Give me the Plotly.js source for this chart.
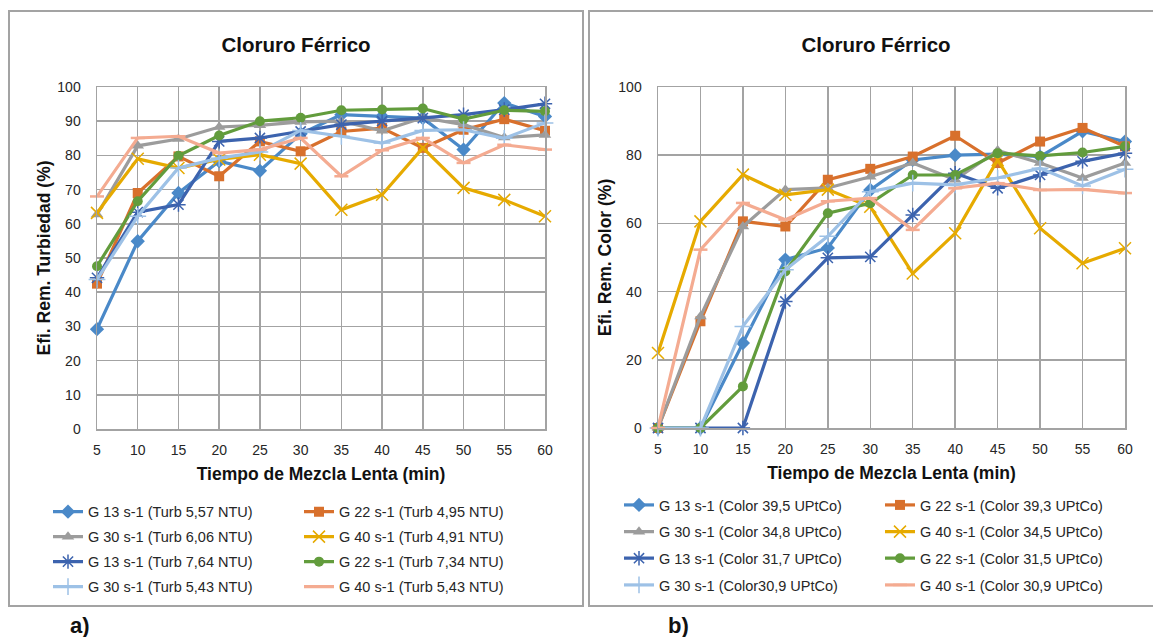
<!DOCTYPE html>
<html>
<head>
<meta charset="utf-8">
<script src="https://cdn.plot.ly/plotly-3.0.1.min.js"></script>
<style>
  html, body { margin: 0; padding: 0; width: 1153px; height: 637px; overflow: hidden; background: #fff; }
  .chart { position: absolute; top: 10px; width: 576px; height: 597px; }
  .frame { position: absolute; top: 10px; width: 576px; height: 597px; box-sizing: border-box;
           border: 2px solid #a3a3a3; pointer-events: none; }
  .tag { position: absolute; top: 613px; font: bold 22px "Liberation Sans", Arial, sans-serif; color: #111; }
</style>
</head>
<body>
<div id="chartA" class="chart" style="left:8px"></div>
<div class="frame" style="left:8px"></div>
<div id="chartB" class="chart" style="left:588px"></div>
<div class="frame" style="left:588px"></div>
<div class="tag" style="left:70px">a)</div>
<div class="tag" style="left:668px">b)</div>

<script>
// Slow-mix time (min)
const minutes = [5, 10, 15, 20, 25, 30, 35, 40, 45, 50, 55, 60];

// Turbidity removal efficiency (%) — chart a)
const turbLabels = [
  'G 13 s-1 (Turb 5,57 NTU)', 'G 22 s-1 (Turb 4,95 NTU)',
  'G 30 s-1 (Turb 6,06 NTU)', 'G 40 s-1 (Turb 4,91 NTU)',
  'G 13 s-1 (Turb 7,64 NTU)', 'G 22 s-1 (Turb 7,34 NTU)',
  'G 30 s-1 (Turb 5,43 NTU)', 'G 40 s-1 (Turb 5,43 NTU)'
];
const turbG13a = [29.2, 54.9, 69.0, 78.3, 75.5, 86.3, 91.9, 91.4, 90.9, 81.7, 95.3, 91.4];
const turbG22a = [42.5, 69.0, 79.7, 73.9, 84.1, 81.2, 87.0, 88.0, 82.2, 87.5, 90.6, 87.2];
const turbG30a = [62.7, 82.8, 84.8, 88.3, 88.8, 89.8, 90.0, 87.2, 91.0, 89.0, 85.2, 86.0];
const turbG40a = [63.2, 79.0, 76.3, 78.8, 80.2, 77.6, 64.1, 68.5, 82.2, 70.5, 67.0, 62.2];
const turbG13b = [44.2, 63.4, 65.6, 84.1, 85.1, 87.0, 89.0, 90.0, 90.9, 91.9, 93.4, 95.1];
const turbG22b = [47.6, 66.6, 79.9, 85.8, 90.0, 91.0, 93.2, 93.4, 93.7, 90.6, 93.2, 92.9];
const turbG30b = [43.7, 62.2, 76.3, 79.2, 81.0, 87.3, 85.6, 83.6, 87.3, 87.5, 85.0, 89.5];
const turbG40b = [68.0, 85.1, 85.6, 80.7, 81.7, 85.1, 73.9, 81.5, 85.1, 77.8, 83.1, 81.7];

// Colour removal efficiency (%) — chart b)
const colorLabels = [
  'G 13 s-1 (Color 39,5 UPtCo)', 'G 22 s-1 (Color 39,3 UPtCo)',
  'G 30 s-1 (Color 34,8 UPtCo)', 'G 40 s-1 (Color 34,5 UPtCo)',
  'G 13 s-1 (Color 31,7 UPtCo)', 'G 22 s-1 (Color 31,5 UPtCo)',
  'G 30 s-1 (Color30,9 UPtCo)', 'G 40 s-1 (Color 30,9 UPtCo)'
];
const colorG13a = [0, 0, 24.9, 49.4, 52.8, 69.8, 78.6, 80.0, 80.3, 79.6, 87.0, 84.0];
const colorG22a = [0, 31.3, 60.6, 59.1, 72.8, 76.0, 79.6, 85.7, 77.7, 84.0, 88.0, 82.6];
const colorG30a = [0, 32.7, 59.1, 69.9, 70.4, 73.7, 77.7, 72.8, 81.4, 77.7, 73.3, 77.7];
const colorG40a = [22.0, 60.6, 74.3, 68.4, 69.9, 64.9, 45.3, 57.1, 78.6, 58.6, 48.3, 52.7];
const colorG13b = [0, 0, 0, 37.1, 49.9, 50.2, 62.5, 74.7, 70.3, 74.2, 78.2, 80.6];
const colorG22b = [0, 0, 12.2, 45.9, 63.0, 65.9, 74.2, 74.2, 80.6, 79.8, 80.8, 82.6];
const colorG30b = [0, 0, 29.8, 46.4, 56.2, 69.3, 71.8, 71.3, 73.3, 76.2, 71.0, 75.9];
const colorG40b = [0, 52.3, 66.0, 61.1, 66.5, 67.4, 58.1, 70.3, 71.8, 69.8, 70.0, 68.9];

// One style per series position (same for both charts)
const seriesStyles = [
  { color: '#4a89c8', symbol: 'diamond', size: 11 },
  { color: '#d8702c', symbol: 'square', size: 10 },
  { color: '#9c9c9c', symbol: 'triangle-up', size: 11 },
  { color: '#e6aa00', symbol: 'x-thin-open', size: 12, lw: 1.5 },
  { color: '#3c63ae', symbol: 'asterisk-open', size: 12, lw: 1.5 },
  { color: '#629c3c', symbol: 'circle', size: 10 },
  { color: '#9dc1e6', symbol: 'cross-thin-open', size: 12, lw: 1.5 },
  { color: '#f4ab91', symbol: 'line-ew-open', size: 10, lw: 2.5 }
];

const FONT = '"Liberation Sans", Arial, sans-serif';
const LEGEND_IDS = ['legend', 'legend2', 'legend3', 'legend4'];

function buildTraces(labels, seriesList) {
  return seriesList.map((vals, i) => {
    const s = seriesStyles[i];
    return {
      type: 'scatter',
      mode: 'lines+markers',
      x: minutes,
      y: vals,
      name: labels[i],
      legend: LEGEND_IDS[Math.floor(i / 2)],   // two entries per legend row
      cliponaxis: false,
      line: { color: s.color, width: 3.2 },
      marker: {
        symbol: s.symbol,
        size: s.size,
        color: s.color,
        line: { color: s.color, width: s.lw || 0 }
      },
      hoverinfo: 'x+y+name'
    };
  });
}

// m: plot-area margins in px; legendLeft / rowY: legend placement in px of the chart box
function buildLayout(yTitle, dtick, m, legendLeft, entryW, rowY) {
  const H = 597, W = 576;
  const plotW = W - m.l - m.r, plotH = H - m.t - m.b, plotBottom = H - m.b;
  const layout = {
    width: W,
    height: H,
    margin: Object.assign({ autoexpand: false }, m),
    paper_bgcolor: 'rgba(0,0,0,0)',
    plot_bgcolor: '#fff',
    font: { family: FONT, size: 14, color: '#262626' },
    title: {
      text: '<b>Cloruro Férrico</b>',
      font: { family: FONT, size: 20.5, color: '#111' },
      x: 0.5, xref: 'container', xanchor: 'center',
      y: 1 - 35 / H, yref: 'container', yanchor: 'middle'
    },
    xaxis: {
      range: [5, 60], tick0: 5, dtick: 5,
      showgrid: true, gridcolor: '#a3a3a3', gridwidth: 1.5,
      showline: true, linecolor: '#a3a3a3', linewidth: 1.5, mirror: true,
      zeroline: false, ticks: '', ticklabelstandoff: 8,
      tickfont: { family: FONT, size: 14, color: '#262626' },
      title: { text: '<b>Tiempo de Mezcla Lenta (min)</b>', standoff: 10,
               font: { family: FONT, size: 17.5, color: '#111' } },
      automargin: false, fixedrange: true
    },
    yaxis: {
      range: [0, 100], tick0: 0, dtick: dtick,
      showgrid: true, gridcolor: '#a3a3a3', gridwidth: 1.5,
      showline: true, linecolor: '#a3a3a3', linewidth: 1.5, mirror: true,
      zeroline: false, ticks: '', ticklabelstandoff: 12,
      tickfont: { family: FONT, size: 14, color: '#262626' },
      title: { text: '<b>' + yTitle + '</b>', standoff: 2,
               font: { family: FONT, size: 17.5, color: '#111' } },
      automargin: false, fixedrange: true
    },
    showlegend: true
  };
  LEGEND_IDS.forEach((id, r) => {
    layout[id] = {
      orientation: 'h',
      x: (legendLeft - m.l) / plotW, xanchor: 'left',
      y: (plotBottom - rowY[r]) / plotH, yanchor: 'middle',
      entrywidth: entryW, entrywidthmode: 'pixels',
      bgcolor: 'rgba(0,0,0,0)', borderwidth: 0,
      font: { family: FONT, size: 14.5, color: '#262626' },
      traceorder: 'normal'
    };
  });
  return layout;
}

const cfg = { displayModeBar: false, staticPlot: true };

Plotly.newPlot('chartA',
  buildTraces(turbLabels, [turbG13a, turbG22a, turbG30a, turbG40a, turbG13b, turbG22b, turbG30b, turbG40b]),
  buildLayout('Efi. Rem. Turbiedad (%)', 10, { l: 89, r: 39, t: 77, b: 178 }, 40, 206,
              [501.7, 526.7, 551.7, 576.7]), cfg);

Plotly.newPlot('chartB',
  buildTraces(colorLabels, [colorG13a, colorG22a, colorG30a, colorG40a, colorG13b, colorG22b, colorG30b, colorG40b]),
  buildLayout('Efi. Rem. Color (%)', 20, { l: 70, r: 39, t: 77, b: 179 }, 31, 216,
              [495, 521.7, 548.3, 575]), cfg);
</script>
</body>
</html>
